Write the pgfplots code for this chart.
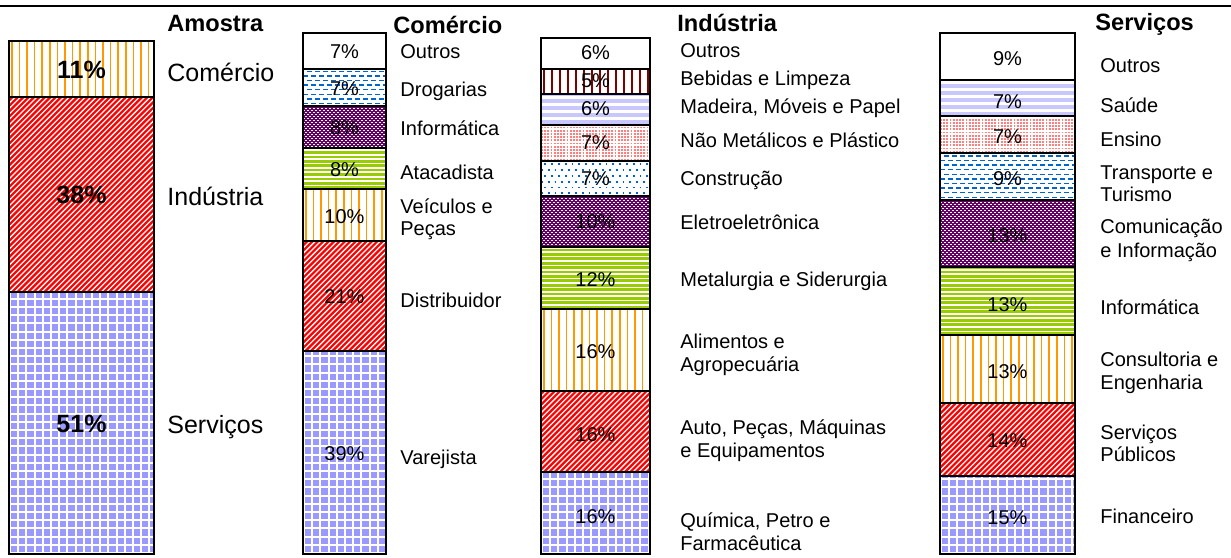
\documentclass[border=0pt]{standalone}
\usepackage{fontspec}
\setmainfont{Liberation Sans}
\usepackage{pgfplots}
\pgfplotsset{compat=1.18}

\definecolor{corange}{HTML}{FF9900}
\definecolor{cred}{HTML}{FF0000}
\definecolor{cgrid}{HTML}{9999FF}
\definecolor{cgreen}{HTML}{99CC00}
\definecolor{cpurple}{HTML}{660066}
\definecolor{cblue}{HTML}{0066CC}
\definecolor{cpink}{HTML}{FF7F7F}
\definecolor{clav}{HTML}{C8C8FF}
\definecolor{cdred}{HTML}{800000}

\newdimen\bbx \newdimen\bby \newdimen\bbX \newdimen\bbY
\newcommand\getbb{%
  \pgfextractx{\bbx}{\pgfpointanchor{path picture bounding box}{south west}}%
  \pgfextracty{\bby}{\pgfpointanchor{path picture bounding box}{south west}}%
  \pgfextractx{\bbX}{\pgfpointanchor{path picture bounding box}{north east}}%
  \pgfextracty{\bbY}{\pgfpointanchor{path picture bounding box}{north east}}}
% horizontal lines: color, width, spacing, offset, count, dash, phase
\newcommand\HL[7]{\getbb\pgfsetlinewidth{#2}\pgfsetstrokecolor{#1}\pgfsetdash{#6}{#7}%
  \foreach \i in {0,...,#5}{\pgfpathmoveto{\pgfpoint{\bbx}{\bby+#4+\i*#3}}%
    \pgfpathlineto{\pgfpoint{\bbX}{\bby+#4+\i*#3}}\pgfusepath{stroke}}}
% vertical lines: color, width, spacing, offset, count
\newcommand\VL[5]{\getbb\pgfsetlinewidth{#2}\pgfsetstrokecolor{#1}\pgfsetdash{}{0pt}%
  \foreach \i in {0,...,#5}{\pgfpathmoveto{\pgfpoint{\bbx+#4+\i*#3}{\bby}}%
    \pgfpathlineto{\pgfpoint{\bbx+#4+\i*#3}{\bbY}}\pgfusepath{stroke}}}
% diagonal lines: color, width, horizontal spacing
\newcommand\DL[3]{\getbb\pgfsetlinewidth{#2}\pgfsetstrokecolor{#1}\pgfsetdash{}{0pt}%
  \foreach \i in {-52,...,30}{\pgfpathmoveto{\pgfpoint{\bbx+\i*#3}{\bby}}%
    \pgfpathlineto{\pgfpoint{\bbx+\i*#3+160pt}{\bby+160pt}}\pgfusepath{stroke}}}

\pgfplotsset{
  seg/.style 2 args={fill=#1, draw=black, line width=1pt,
     postaction={path picture={#2}, draw=black, line width=1pt}},
  pgrid/.style={seg={cgrid}{\VL{white}{1pt}{4.1pt}{0.5pt}{19}\HL{white}{1pt}{4.1pt}{0.5pt}{34}{}{0pt}}},
  pred/.style={seg={cred}{\DL{white}{0.65pt}{2.7pt}}},
  porange/.style={seg={white}{\VL{corange}{0.85pt}{3.8pt}{1.4pt}{21}}},
  pgreen/.style={seg={white}{\HL{cgreen}{1.35pt}{2.2pt}{0.8pt}{20}{}{0pt}}},
  ppurple/.style={seg={cpurple}{\HL{white}{0.8pt}{2pt}{0.5pt}{23}{{0.85pt}{1.15pt}}{0pt}\HL{white}{0.8pt}{2pt}{1.5pt}{23}{{0.85pt}{1.15pt}}{1pt}}},
  pdash/.style={seg={white}{\HL{cblue}{0.75pt}{4.6pt}{1.2pt}{7}{{2.6pt}{1.4pt}}{0pt}\HL{cblue}{0.75pt}{4.6pt}{3.5pt}{7}{{2.6pt}{1.4pt}}{2pt}}},
  pbdots/.style={seg={white}{\HL{cblue}{0.9pt}{5.8pt}{1.5pt}{5}{{0.9pt}{2.5pt}}{0pt}\HL{cblue}{0.9pt}{5.8pt}{4.4pt}{5}{{0.9pt}{2.5pt}}{1.7pt}}},
  ppink/.style={seg={white}{\HL{cpink}{0.9pt}{1.6pt}{0.6pt}{16}{{0.9pt}{0.7pt}}{0pt}}},
  plav/.style={seg={white}{\HL{clav}{2pt}{3.5pt}{1.3pt}{8}{}{0pt}}},
  pdred/.style={seg={white}{\VL{cdred}{0.8pt}{4pt}{1.5pt}{16}}},
  pwhite/.style={fill=white, draw=black, line width=1pt},
  colbar/.style={scale only axis, axis lines=none, xmin=-0.5, xmax=0.5, ymin=0,
    ybar stacked, clip=false, enlargelimits=false, anchor=south west,
    xtick=\empty, ytick=\empty},
}
\newcommand{\lab}{\fontsize{10}{12}\selectfont}
\newcommand{\biglab}{\fontsize{12.5}{15}\selectfont}
\newcommand{\ttl}{\bfseries\fontsize{11.8}{14}\selectfont}

\begin{document}
\begin{tikzpicture}
\path[use as bounding box] (0pt,0pt) rectangle (615.5pt,-278.5pt);

% Amostra
\begin{axis}[colbar, at={(4.5pt,-277pt)}, width=72.5pt, height=256.5pt, bar width=72.5pt, ymax=100]
\addplot[pgrid] coordinates {(0,51)};
\addplot[pred] coordinates {(0,38)};
\addplot[porange] coordinates {(0,11)};
\end{axis}

% Comercio
\begin{axis}[colbar, at={(151.5pt,-277pt)}, width=41.5pt, height=260.5pt, bar width=41.5pt, ymax=100]
\addplot[pgrid] coordinates {(0,39)};
\addplot[pred] coordinates {(0,21)};
\addplot[porange] coordinates {(0,10)};
\addplot[pgreen] coordinates {(0,8)};
\addplot[ppurple] coordinates {(0,8)};
\addplot[pdash] coordinates {(0,7)};
\addplot[pwhite] coordinates {(0,7)};
\end{axis}

% Industria
\begin{axis}[colbar, at={(270.5pt,-277pt)}, width=54.5pt, height=258pt, bar width=54.5pt, ymax=101]
\addplot[pgrid] coordinates {(0,16)};
\addplot[pred] coordinates {(0,16)};
\addplot[porange] coordinates {(0,16)};
\addplot[pgreen] coordinates {(0,12)};
\addplot[ppurple] coordinates {(0,10)};
\addplot[pbdots] coordinates {(0,7)};
\addplot[ppink] coordinates {(0,7)};
\addplot[plav] coordinates {(0,6)};
\addplot[pdred] coordinates {(0,5)};
\addplot[pwhite] coordinates {(0,6)};
\end{axis}

% Servicos
\begin{axis}[colbar, at={(470pt,-277pt)}, width=67.5pt, height=260.5pt, bar width=67.5pt, ymax=100]
\addplot[pgrid] coordinates {(0,15)};
\addplot[pred] coordinates {(0,14)};
\addplot[porange] coordinates {(0,13)};
\addplot[pgreen] coordinates {(0,13)};
\addplot[ppurple] coordinates {(0,13)};
\addplot[pdash] coordinates {(0,9)};
\addplot[ppink] coordinates {(0,7)};
\addplot[plav] coordinates {(0,7)};
\addplot[pwhite] coordinates {(0,9)};
\end{axis}

\begin{scope}[x=0.5pt,y=-0.5pt]
\draw[line width=1.25pt] (0,6) -- (1231,6);
% percentages
\begin{scope}[every node/.style={inner sep=0pt, anchor=center}]
\node[font=\bfseries\biglab] at (81.5,70) {11\%};
\node[font=\bfseries\biglab] at (81.5,195) {38\%};
\node[font=\bfseries\biglab] at (81.5,424) {51\%};
\node[font=\lab] at (344.5,52) {7\%};
\node[font=\lab] at (344.5,89) {7\%};
\node[font=\lab] at (344.5,128) {8\%};
\node[font=\lab] at (344.5,170) {8\%};
\node[font=\lab] at (344.5,217) {10\%};
\node[font=\lab] at (344.5,297) {21\%};
\node[font=\lab] at (344.5,454) {39\%};
\node[font=\lab] at (595.5,53) {6\%};
\node[font=\lab] at (595.5,81) {5\%};
\node[font=\lab] at (595.5,109) {6\%};
\node[font=\lab] at (595.5,143) {7\%};
\node[font=\lab] at (595.5,179) {7\%};
\node[font=\lab] at (595.5,222) {10\%};
\node[font=\lab] at (595.5,280) {12\%};
\node[font=\lab] at (595.5,352) {16\%};
\node[font=\lab] at (595.5,435) {16\%};
\node[font=\lab] at (595.5,517) {16\%};
\node[font=\lab] at (1007.5,59) {9\%};
\node[font=\lab] at (1007.5,102) {7\%};
\node[font=\lab] at (1007.5,137) {7\%};
\node[font=\lab] at (1007.5,179) {9\%};
\node[font=\lab] at (1007.5,236) {13\%};
\node[font=\lab] at (1007.5,305) {13\%};
\node[font=\lab] at (1007.5,372) {13\%};
\node[font=\lab] at (1007.5,441) {14\%};
\node[font=\lab] at (1007.5,518) {15\%};
\end{scope}
\tikzset{every node/.style={inner sep=0pt, anchor=base west}}
% titles
\node[font=\ttl] at (167,32) {Amostra};
\node[font=\ttl] at (393,33) {Comércio};
\node[font=\ttl] at (677,32) {Indústria};
\node[font=\ttl] at (1095,31) {Serviços};
% Amostra labels
\node[font=\biglab] at (167,81) {Comércio};
\node[font=\biglab] at (167,205) {Indústria};
\node[font=\biglab] at (167,433) {Serviços};
% Comercio labels
\node[font=\lab] at (400,58) {Outros};
\node[font=\lab] at (400,96) {Drogarias};
\node[font=\lab] at (400,135) {Informática};
\node[font=\lab] at (400,179) {Atacadista};
\node[font=\lab] at (400,213) {Veículos e};
\node[font=\lab] at (400,235) {Peças};
\node[font=\lab] at (400,307) {Distribuidor};
\node[font=\lab] at (400,464) {Varejista};
% Industria labels
\node[font=\lab] at (680,57) {Outros};
\node[font=\lab] at (680,85) {Bebidas e Limpeza};
\node[font=\lab] at (680,113) {Madeira, Móveis e Papel};
\node[font=\lab] at (680,147) {Não Metálicos e Plástico};
\node[font=\lab] at (680,185) {Construção};
\node[font=\lab] at (680,229) {Eletroeletrônica};
\node[font=\lab] at (680,286) {Metalurgia e Siderurgia};
\node[font=\lab] at (680,348) {Alimentos e};
\node[font=\lab] at (680,371) {Agropecuária};
\node[font=\lab] at (680,434) {Auto, Peças, Máquinas};
\node[font=\lab] at (680,457) {e Equipamentos};
\node[font=\lab] at (680,527) {Química, Petro e};
\node[font=\lab] at (680,550) {Farmacêutica};
% Servicos labels
\node[font=\lab] at (1100,72) {Outros};
\node[font=\lab] at (1100,112) {Saúde};
\node[font=\lab] at (1100,146) {Ensino};
\node[font=\lab] at (1100,179) {Transporte e};
\node[font=\lab] at (1100,201) {Turismo};
\node[font=\lab] at (1100,233) {Comunicação};
\node[font=\lab] at (1100,257) {e Informação};
\node[font=\lab] at (1100,314) {Informática};
\node[font=\lab] at (1100,366) {Consultoria e};
\node[font=\lab] at (1100,389) {Engenharia};
\node[font=\lab] at (1100,439) {Serviços};
\node[font=\lab] at (1100,461) {Públicos};
\node[font=\lab] at (1100,523) {Financeiro};
\end{scope}
\end{tikzpicture}
\end{document}
